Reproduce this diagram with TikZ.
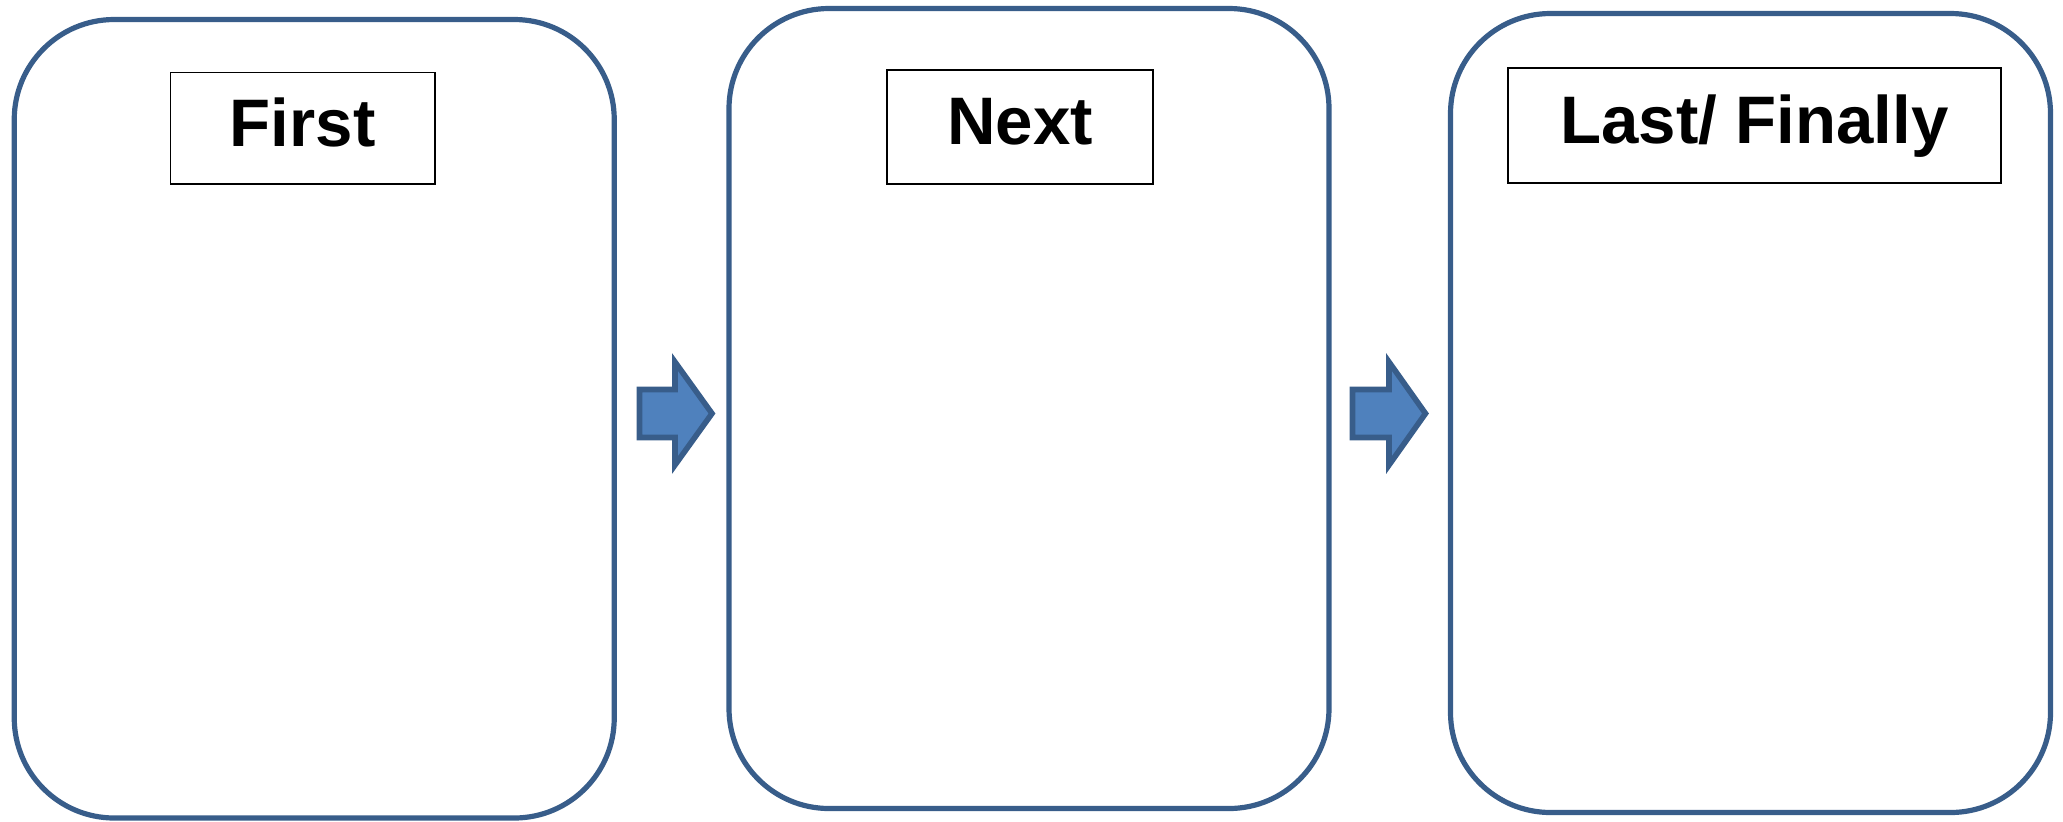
\documentclass[tikz,border=0pt]{standalone}
\usepackage{fontspec}
\setmainfont{Liberation Sans}
\definecolor{panelblue}{HTML}{385D8A}
\definecolor{arrowfill}{HTML}{4F81BD}
\begin{document}
\begin{tikzpicture}[x=0.5pt,y=-0.5pt,
  panel/.style={draw=panelblue, line width=2.6pt, rounded corners=50pt, minimum width=300pt, inner sep=0pt, fill=white},
  titlebox/.style={draw=black, line width=0.75pt, inner sep=0pt, fill=white,
     font=\fontsize{33.6}{40}\selectfont\bfseries, text height=23.5pt, text depth=5.7pt},
  flowarrow/.style={draw=panelblue, line width=2.8pt, fill=arrowfill, line join=miter}]
\useasboundingbox (0,0) rectangle (2063,821);
% panels
\node[panel, minimum height=399.25pt] (p1) at (314.25,418.75) {};
\node[panel, minimum height=400pt] (p2) at (1029,408.5) {};
\node[panel, minimum height=399.5pt] (p3) at (1750.5,413) {};
% title boxes
\node[titlebox, minimum width=132.25pt, minimum height=55.75pt] (t1) at (302.75,128.25) {First};
\node[titlebox, minimum width=133pt, minimum height=57pt] (t2) at (1020,127) {Next};
\node[titlebox, minimum width=246.5pt, minimum height=57.5pt] (t3) at (1754.5,125.5) {Last/ Finally};
% arrows
\draw[flowarrow] (639.5,389.5) -- (675,389.5) -- (675,362) -- (712,413.5) -- (675,465) -- (675,437.5) -- (639.5,437.5) -- cycle;
\draw[flowarrow] (1352.5,389.5) -- (1389,389.5) -- (1389,362) -- (1425.5,413.5) -- (1389,465) -- (1389,437.5) -- (1352.5,437.5) -- cycle;
\end{tikzpicture}
\end{document}
